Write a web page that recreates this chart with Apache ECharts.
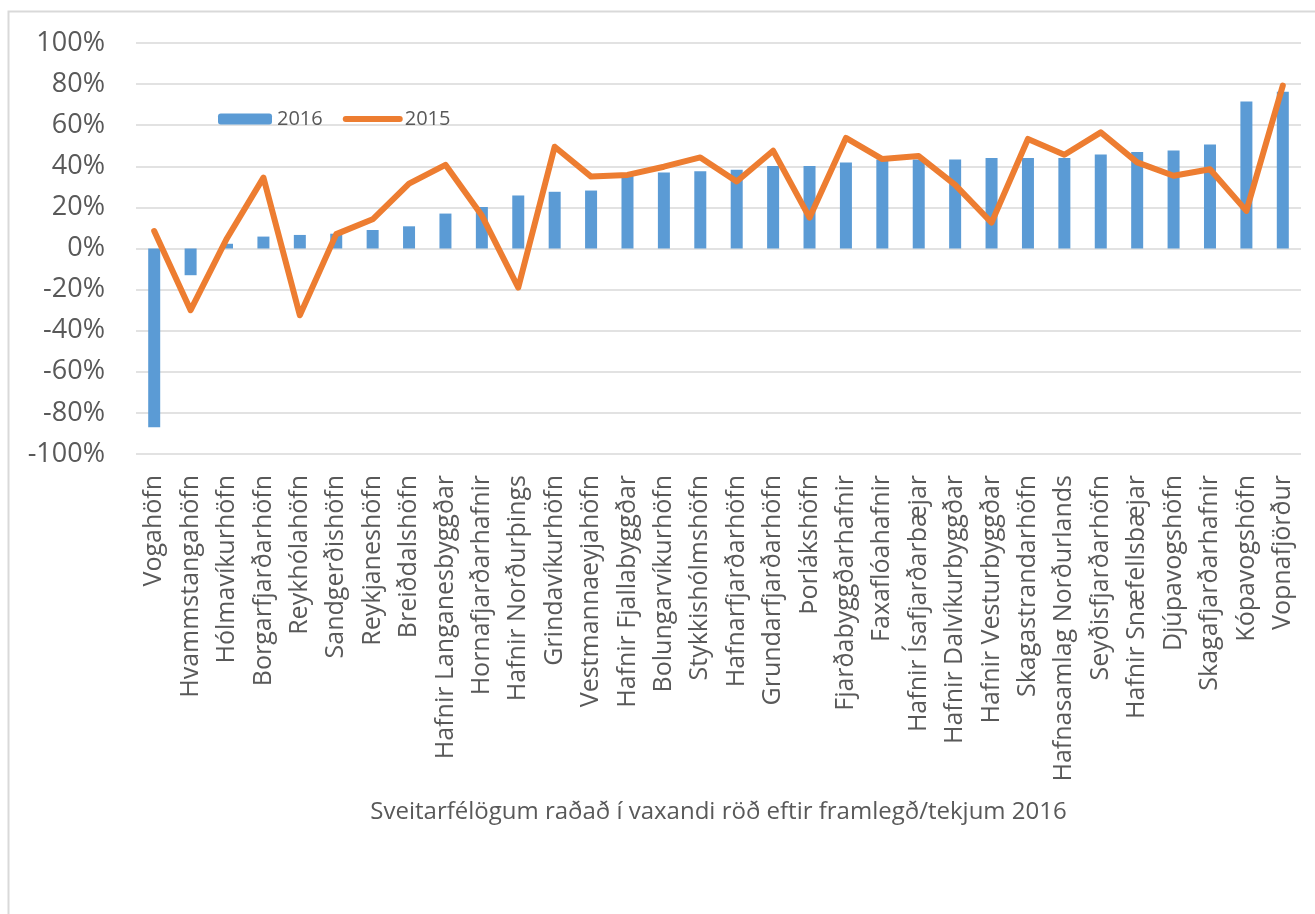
<!DOCTYPE html>
<html>
<head>
<meta charset="utf-8">
<script src="https://cdn.jsdelivr.net/npm/echarts@6/dist/echarts.min.js"></script>
<style>
html,body{margin:0;padding:0;background:#fff;}
#main{width:1315px;height:914px;}
</style>
</head>
<body>
<div id="main"></div>
<script>
const categories = ["Vogahöfn","Hvammstangahöfn","Hólmavíkurhöfn","Borgarfjarðarhöfn","Reykhólahöfn","Sandgerðishöfn","Reykjaneshöfn","Breiðdalshöfn","Hafnir Langanesbyggðar","Hornafjarðarhafnir","Hafnir Norðurþings","Grindavíkurhöfn","Vestmannaeyjahöfn","Hafnir Fjallabyggðar","Bolungarvíkurhöfn","Stykkishólmshöfn","Hafnarfjarðarhöfn","Grundarfjarðarhöfn","Þorlákshöfn","Fjarðabyggðarhafnir","Faxaflóahafnir","Hafnir Ísafjarðarbæjar","Hafnir Dalvíkurbyggðar","Hafnir Vesturbyggðar","Skagastrandarhöfn","Hafnasamlag Norðurlands","Seyðisfjarðarhöfn","Hafnir Snæfellsbæjar","Djúpavogshöfn","Skagafjarðarhafnir","Kópavogshöfn","Vopnafjörður"];
const values2016 = [-87, -13, 2.3, 5.8, 6.6, 7.2, 9.0, 10.8, 17.0, 20.2, 25.8, 27.6, 28.2, 35.3, 37.0, 37.6, 38.3, 40.1, 40.1, 41.9, 43.3, 43.3, 43.3, 44.0, 44.0, 44.0, 45.8, 46.9, 47.7, 50.6, 71.5, 76.3];
const values2015 = [8.5, -30, 5, 34.5, -32.5, 7, 14.2, 31.6, 40.7, 16, -19, 49.5, 35, 35.8, 39.8, 44.3, 32.6, 47.6, 15, 53.8, 43.5, 45, 31, 12.6, 53.3, 45.6, 56.5, 41.9, 35.4, 38.6, 18.3, 79.3];
const yTicks = {min: -100, max: 100, interval: 20};
const seriesNames = ["2016", "2015"];
const xAxisTitle = "Sveitarfélögum raðað í vaxandi röð eftir framlegð/tekjum 2016";

const chart = echarts.init(document.getElementById('main'), null, {renderer: 'canvas'});
const font = "'Open Sans', 'Noto Sans', sans-serif";
chart.setOption({
  animation: false,
  backgroundColor: '#ffffff',
  textStyle: {fontFamily: font},
  graphic: [{
    type: 'rect', left: 6, top: 9, silent: true,
    shape: {width: 1400, height: 1000},
    style: {fill: 'none', stroke: '#d9d9d9', lineWidth: 2}
  }],
  legend: {
    data: [
      {name: seriesNames[0]},
      {name: seriesNames[1], itemStyle: {opacity: 0}, lineStyle: {width: 6, cap: 'round', color: '#ED7D31'}}
    ],
    left: 213, top: 104,
    itemWidth: 54, itemHeight: 11, itemGap: 20,
    textStyle: {fontSize: 20, color: '#595959', fontFamily: font}
  },
  grid: {left: 136, right: 14, top: 43, bottom: 460, containLabel: false},
  xAxis: {
    type: 'category',
    data: categories,
    axisTick: {show: false},
    axisLine: {show: false, onZero: false},
    axisLabel: {rotate: 90, interval: 0, margin: 21, fontSize: 25, color: '#595959', fontFamily: font},
    name: xAxisTitle,
    nameLocation: 'middle',
    nameGap: 346,
    nameTextStyle: {fontSize: 24, color: '#595959', fontFamily: font}
  },
  yAxis: {
    type: 'value',
    min: yTicks.min, max: yTicks.max, interval: yTicks.interval,
    axisLine: {show: false},
    axisTick: {show: false},
    axisLabel: {formatter: '{value}%', fontSize: 27, margin: 31, color: '#595959', fontFamily: font},
    splitLine: {lineStyle: {color: '#d9d9d9', width: 1.6}}
  },
  series: [
    {
      name: seriesNames[0], type: 'bar', data: values2016,
      barWidth: 12,
      itemStyle: {color: '#5B9BD5'}
    },
    {
      name: seriesNames[1], type: 'line', data: values2015,
      symbol: 'none',
      lineStyle: {color: '#ED7D31', width: 6, join: 'round', cap: 'round'},
      itemStyle: {color: '#ED7D31'}
    }
  ]
});
</script>
</body>
</html>
